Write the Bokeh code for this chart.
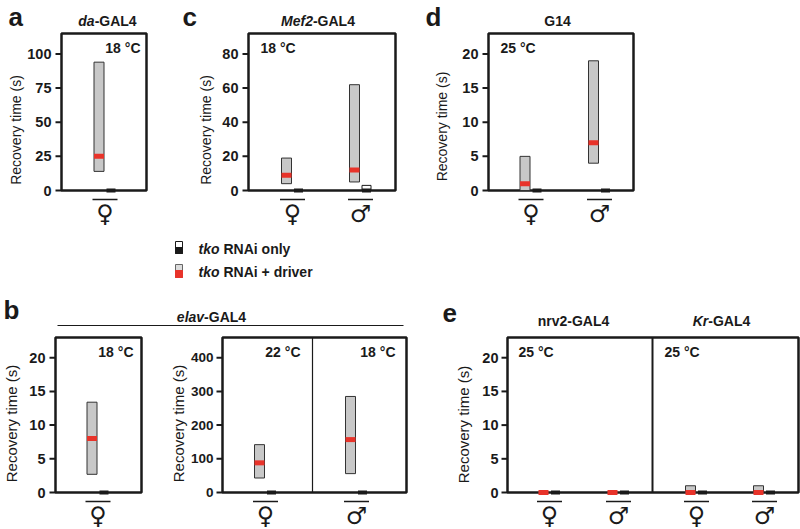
import math
from bokeh.plotting import figure
from bokeh.models import Range1d
from bokeh.embed import file_html
from bokeh.resources import INLINE
from bokeh.core.properties import value

# ---------------- data: recovery time (s) ----------------
# drv = "tko RNAi + driver" (low, high, median); ctl = "tko RNAi only" (low, high, median)
a_sex = ["♀"]
a_drv_low = [14]; a_drv_high = [94]; a_drv_med = [25]
a_ctl_low = [0]; a_ctl_high = [0]; a_ctl_med = [0]
a_ticks = [0, 25, 50, 75, 100]

c_sex = ["♀", "♂"]
c_drv_low = [4, 5]; c_drv_high = [19, 62]; c_drv_med = [9, 12]
c_ctl_low = [0, 0]; c_ctl_high = [0, 3]; c_ctl_med = [0, 0]
c_ticks = [0, 20, 40, 60, 80]

d_sex = ["♀", "♂"]
d_drv_low = [0, 4]; d_drv_high = [5, 19]; d_drv_med = [1, 7]
d_ctl_low = [0, 0]; d_ctl_high = [0, 0]; d_ctl_med = [0, 0]
d_ticks = [0, 5, 10, 15, 20]

b1_sex = ["♀"]
b1_drv_low = [2.7]; b1_drv_high = [13.4]; b1_drv_med = [8]
b1_ctl_low = [0]; b1_ctl_high = [0]; b1_ctl_med = [0]
b1_ticks = [0, 5, 10, 15, 20]

b2_sex = ["♀", "♂"]
b2_temp = ["22 °C", "18 °C"]
b2_drv_low = [43, 56]; b2_drv_high = [142, 285]; b2_drv_med = [88, 157]
b2_ctl_low = [0, 0]; b2_ctl_high = [0, 0]; b2_ctl_med = [0, 0]
b2_ticks = [0, 100, 200, 300, 400]

e_driver = ["nrv2", "nrv2", "Kr", "Kr"]
e_sex = ["♀", "♂", "♀", "♂"]
e_temp = ["25 °C", "25 °C"]
e_drv_low = [0, 0, 0, 0]; e_drv_high = [0, 0, 1, 1]; e_drv_med = [0, 0, 0, 0]
e_ctl_low = [0, 0, 0, 0]; e_ctl_high = [0, 0, 0, 0]; e_ctl_med = [0, 0, 0, 0]
e_ticks = [0, 5, 10, 15, 20]

# ---------------- style ----------------
INK = "#1a1a1a"
GRAY = "#c8c8c8"
EDGE = "#333333"
RED = "#e8332a"
FONT = "Liberation Sans"
SYM_FONT = "DejaVu Sans"
W, H = 800, 528

p = figure(width=W, height=H, x_range=Range1d(0, W), y_range=Range1d(H, 0), min_border=0,
           x_axis_type=None, y_axis_type=None, toolbar_location=None, output_backend="svg",
           title=None)
p.outline_line_color = None
p.background_fill_color = "white"
p.border_fill_color = "white"

# panel frames in page pixels (left, top, right, bottom) and y maxima
FR = {
    "a": ((61, 33, 146, 190), 115),
    "c": ((248, 33, 395, 190), 92),
    "d": ((488, 33, 633, 190), 23),
    "b1": ((55, 337, 141, 492), 23),
    "b2": ((222, 337, 406, 492), 460),
    "e": ((507, 337, 798, 492), 23),
}
# sub-panel x calibration: (frame key, first group centre px, px per group)
SUB = {
    "a": ("a", 104.5, 70),
    "c": ("c", 292, 68),
    "d": ("d", 530.5, 68.5),
    "b1": ("b1", 97.5, 70),
    "b2": ("b2", 265, 91),
    "e1": ("e", 549, 69),
    "e2": ("e", 696, 68),
}

xr, yr = {}, {}
for name, ((L, T, R, B), ymax) in FR.items():
    ky = (B - T) / ymax
    yr[name] = Range1d(-(H - B) / ky, ymax + T / ky)
for name, (fk, g0, kx) in SUB.items():
    xr[name] = Range1d(-g0 / kx, (W - g0) / kx)
    if name not in yr:
        (L, T, R, B), ymax = FR[fk]
        ky = (B - T) / ymax
        yr[name] = Range1d(-(H - B) / ky, ymax + T / ky)
p.extra_x_ranges = xr
p.extra_y_ranges = yr


def txt(x, y, s, size="14px", style="bold", align="left", baseline="middle", angle=0,
        font=FONT, xn="default", yn="default"):
    n = len(x)
    p.text(x=x, y=y, text=s if isinstance(s, list) else [s] * n, angle=angle,
           text_font=value(font), text_font_size=value(size), text_font_style=style,
           text_align=align, text_baseline=baseline, text_color=INK,
           x_range_name=xn, y_range_name=yn)


def draw_frame(key, ticks, ylab_x, ylab_y, ylab_size, lab_gap=10, tick_size="14.5px"):
    (L, T, R, B), ymax = FR[key]
    p.quad(left=[L], right=[R], top=[T], bottom=[B], fill_color=None, line_color=INK, line_width=2.5)
    n = len(ticks)
    p.segment(x0=[L - 6] * n, x1=[L] * n, y0=ticks, y1=ticks, line_color=INK, line_width=2,
              x_range_name="default", y_range_name=key)
    txt([L - lab_gap] * n, ticks, [str(t) for t in ticks], size=tick_size, align="right", yn=key)
    txt([ylab_x], [ylab_y], "Recovery time (s)", size=ylab_size, style="normal", align="center",
        angle=math.pi / 2)


def draw_data(name, sexes, drv, ctl, sym_y):
    fk, g0, kx = SUB[name]
    (L, T, R, B), ymax = FR[fk]
    xs = list(range(len(sexes)))
    dx, bw, cw = 6 / kx, 10 / kx, 9 / kx
    dl, dh, dm = drv
    cl, ch, cm = ctl
    kw = dict(x_range_name=name, y_range_name=name)
    p.quad(left=[x - dx - bw / 2 for x in xs], right=[x - dx + bw / 2 for x in xs],
           bottom=dl, top=dh, fill_color=GRAY, line_color=EDGE, line_width=1, **kw)
    p.rect(x=[x - dx for x in xs], y=dm, width=bw, height=5, height_units="screen",
           fill_color=RED, line_color=None, **kw)
    p.quad(left=[x + dx - cw / 2 for x in xs], right=[x + dx + cw / 2 for x in xs],
           bottom=cl, top=ch, fill_color="white", line_color=INK, line_width=1, **kw)
    p.rect(x=[x + dx for x in xs], y=cm, width=cw, height=4, height_units="screen",
           fill_color=INK, line_color=None, **kw)
    n = len(xs)
    p.segment(x0=[x - 12.5 / kx for x in xs], x1=[x + 12.5 / kx for x in xs],
              y0=[B + 9] * n, y1=[B + 9] * n, line_color=INK, line_width=1.5,
              x_range_name=name, y_range_name="default")
    txt(xs, [sym_y] * n, list(sexes), size="24px", style="bold", align="center",
        font=SYM_FONT, xn=name)


def title(cx, cy, ital, rest, split):
    if ital:
        txt([cx + split], [cy], ital, style="bold italic", align="right")
        txt([cx + split], [cy], rest, align="left")
    else:
        txt([cx], [cy], rest, align="center")


# ---------------- top row ----------------
draw_frame("a", a_ticks, 15, 129.5, "14px")
draw_frame("c", c_ticks, 205, 129.5, "14px")
draw_frame("d", d_ticks, 441, 126, "14px")
draw_data("a", a_sex, (a_drv_low, a_drv_high, a_drv_med), (a_ctl_low, a_ctl_high, a_ctl_med), 213.5)
draw_data("c", c_sex, (c_drv_low, c_drv_high, c_drv_med), (c_ctl_low, c_ctl_high, c_ctl_med), 213.5)
draw_data("d", d_sex, (d_drv_low, d_drv_high, d_drv_med), (d_ctl_low, d_ctl_high, d_ctl_med), 213.5)

txt([8], [16], "a", size="26px")
txt([182], [16], "c", size="26px")
txt([425], [16], "d", size="26px")
title(107, 20.5, "da", "-GAL4", -12.85)
title(317.5, 20.5, "Mef2", "-GAL4", -5.05)
title(557, 20.5, "", "G14", 0)
txt([140], [47], "18 °C", align="right")
txt([260], [47], "18 °C")
txt([500], [47], "25 °C")

# legend
p.quad(left=[175], right=[182], top=[241], bottom=[253], fill_color="white", line_color=INK, line_width=1)
p.quad(left=[175], right=[182], top=[247], bottom=[253], fill_color=INK, line_color=INK, line_width=1)
p.quad(left=[175], right=[182], top=[264], bottom=[277], fill_color="#dcdcdc", line_color="#666666", line_width=1)
p.quad(left=[175], right=[182], top=[270], bottom=[277], fill_color=RED, line_color=RED, line_width=1)
txt([198, 198], [248, 271], ["tko", "tko"], style="bold italic")
txt([223, 223], [248, 271], ["RNAi only", "RNAi + driver"])

# ---------------- bottom row ----------------
draw_frame("b1", b1_ticks, 11, 423, "15px")
draw_frame("b2", b2_ticks, 178, 423, "15px", lab_gap=9, tick_size="13.5px")
draw_frame("e", e_ticks, 463, 424, "15px", lab_gap=9)
draw_data("b1", b1_sex, (b1_drv_low, b1_drv_high, b1_drv_med), (b1_ctl_low, b1_ctl_high, b1_ctl_med), 515)
draw_data("b2", b2_sex, (b2_drv_low, b2_drv_high, b2_drv_med), (b2_ctl_low, b2_ctl_high, b2_ctl_med), 515)
for sub, drv_name in (("e1", "nrv2"), ("e2", "Kr")):
    idx = [i for i, d in enumerate(e_driver) if d == drv_name]
    draw_data(sub, [e_sex[i] for i in idx],
              ([e_drv_low[i] for i in idx], [e_drv_high[i] for i in idx], [e_drv_med[i] for i in idx]),
              ([e_ctl_low[i] for i in idx], [e_ctl_high[i] for i in idx], [e_ctl_med[i] for i in idx]),
              515)

# sub-panel dividers
p.segment(x0=[312], x1=[312], y0=[337], y1=[492], line_color=INK, line_width=1.2)
p.segment(x0=[652], x1=[652], y0=[337], y1=[492], line_color=INK, line_width=2)

txt([3], [309], "b", size="26px")
txt([442], [312], "e", size="26px")
p.segment(x0=[57], x1=[403], y0=[325], y1=[325], line_color=INK, line_width=1.2)
title(211, 316, "elav", "-GAL4", -7.4)
title(573, 320, "", "nrv2-GAL4", 0)
title(721, 320, "Kr", "-GAL4", -13.2)
txt([133], [351], "18 °C", align="right")
txt([300], [351], b2_temp[0], align="right")
txt([395], [351], b2_temp[1], align="right")
txt([518], [351], e_temp[0])
txt([664], [351], e_temp[1])

open("out.html", "w").write(file_html(p, INLINE))
